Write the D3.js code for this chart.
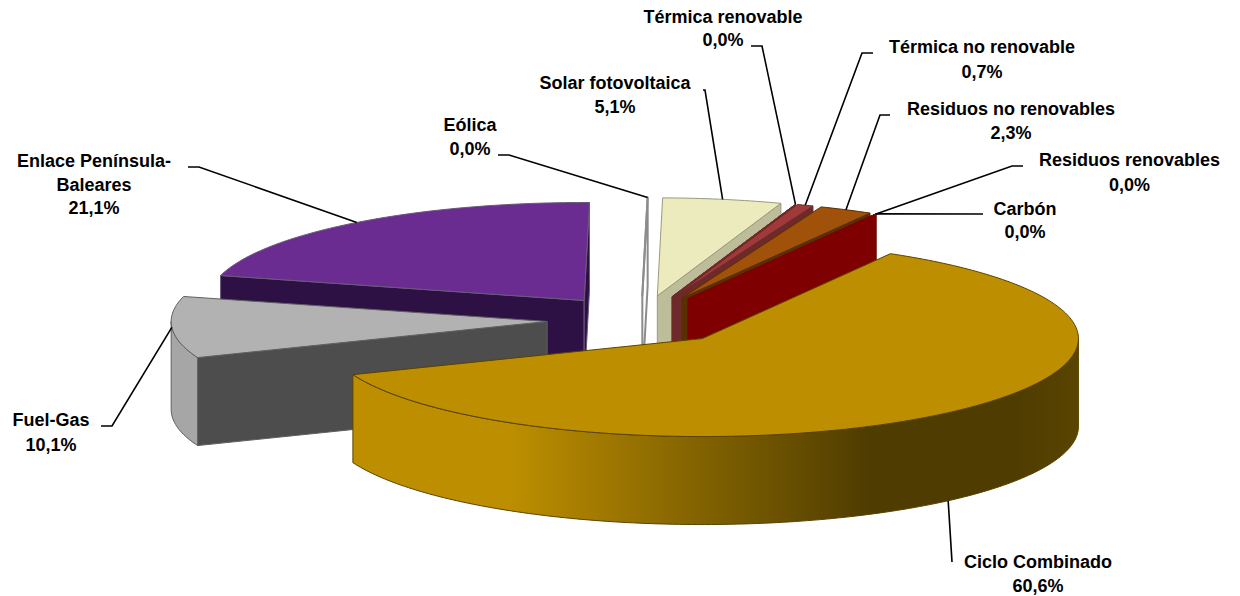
<!DOCTYPE html>
<html><head><meta charset="utf-8">
<script src="https://cdn.jsdelivr.net/npm/d3@7"></script>
<style>html,body{margin:0;padding:0;background:#fff}svg{display:block}
text{font-family:"Liberation Sans",Arial,sans-serif;font-weight:700;font-size:18px;fill:#000;text-anchor:middle}</style>
</head><body><svg id="c" width="1240" height="596"></svg>
<script>
// Data, in drawing-clockwise order starting at the Ciclo Combinado slice
const categories = ["Ciclo Combinado","Fuel-Gas","Enlace Península-Baleares","Eólica","Solar fotovoltaica","Térmica renovable","Térmica no renovable","Residuos no renovables","Residuos renovables","Carbón"];
const values = [60.6,10.1,21.1,0.0,5.1,0.0,0.7,2.3,0.0,0.0];
const labelLines = [["Ciclo Combinado"],["Fuel-Gas"],["Enlace Península-","Baleares"],["Eólica"],["Solar fotovoltaica"],["Térmica renovable"],["Térmica no renovable"],["Residuos no renovables"],["Residuos renovables"],["Carbón"]];
const topColors  = ["#BC8E00","#B2B2B2","#6B2C91","#FFFFFF","#EBEBBD","#A03A3A","#A03A3A","#A0520A","#6E3A00","#7F0000"];
const wallColors = ["#BC8E00","#4D4D4D","#2D1144","#FFFFFF","#BDBD9A","#6E2A2A","#6E2A2A","#5A3000","#5A3000","#7F0000"];
const arcColors  = ["url(#cicloWall)","#A6A6A6","#2D1144","#FFFFFF","#BDBD9A","#6E2A2A","#6E2A2A","#5A3000","#5A3000","#7F0000"];
const edgeColors = ["#5A4300","#5F5F5F","#6A5A78","#8C8C8C","#9A9A80","#6E2A2A","#6E2A2A","#5A3000","#3C2000","#7F0000"];
// layout
const W=1240,H=596, cx=641, cy=320, rx=376, ry=98, depth=88, explode=0.25, startDeg=30;
const drawOrder=[3,4,5,6,7,8,9,2,1,0];
const labelPos=[[1038,568],[51,426],[94,167],[470,131],[615,89],[723,23],[982,53],[1011,115],[1129.5,166],[1025,215]];
const lineH=[24,25,23.5,24,24,23,25,24,25,23];
const elbows=[[[952,562]],[[101,426],[112,426]],[[188,167],[199,167]],[[498,155],[509,155]],[[703,90],[705,90]],[[751,46],[762,46]],[[873,53],[862,53]],[[890,115],[880,115]],[[1023,166],[1012,166]],[[983,214]]];

const svg=d3.select("#c");
const X=d3.scaleLinear().domain([-1,1]).range([cx-rx,cx+rx]);
const Y=d3.scaleLinear().domain([-1,1]).range([cy-ry,cy+ry]);
const line=d3.line();
const rad=d=>d*Math.PI/180;
const slices=d3.pie().sort(null).value(d=>d).startAngle(rad(startDeg)).endAngle(rad(startDeg+360))(values);

const defs=svg.append("defs");
const grad=defs.append("linearGradient").attr("id","cicloWall").attr("gradientUnits","userSpaceOnUse")
 .attr("x1",X(-1)).attr("x2",X(1.17)).attr("y1",0).attr("y2",0);
[[0,"#BC8E00"],[0.30,"#BC8E00"],[0.74,"#4F3C00"],[0.92,"#4F3C00"],[1,"#5A4500"]].forEach(s=>grad.append("stop").attr("offset",s[0]).attr("stop-color",s[1]));

function apex(s){const m=(s.startAngle+s.endAngle)/2;return [explode*Math.sin(m),-explode*Math.cos(m)];}
function pt(s,a,dz){const o=apex(s);return [X(o[0]+Math.sin(a)),Y(o[1]-Math.cos(a))+(dz||0)];}
function ctr(s,dz){const o=apex(s);return [X(o[0]),Y(o[1])+(dz||0)];}
function arcPts(s,a0,a1,dz){const n=Math.max(1,Math.ceil((a1-a0)/rad(1)));return d3.range(n+1).map(i=>pt(s,a0+(a1-a0)*i/n,dz));}

drawOrder.forEach(i=>{
  const s=slices[i], a0=s.startAngle, a1=s.endAngle, g=svg.append("g").attr("class","slice");
  const sw=i===3?2:1;
  // radial walls
  if(Math.sin(a0)<-0.001) g.append("path").attr("d",line([ctr(s),pt(s,a0),pt(s,a0,depth),ctr(s,depth)])+"Z")
     .attr("fill",wallColors[i]).attr("stroke",edgeColors[i]).attr("stroke-width",sw);
  if(Math.sin(a1)>0.001||i===3) g.append("path").attr("d",line([ctr(s),pt(s,a1),pt(s,a1,depth),ctr(s,depth)])+"Z")
     .attr("fill",wallColors[i]).attr("stroke",edgeColors[i]).attr("stroke-width",sw);
  // curved wall
  const b0=Math.max(a0,rad(90)), b1=Math.min(a1,rad(270));
  if(b1>b0){const top=arcPts(s,b0,b1,0), bot=arcPts(s,b0,b1,depth).reverse();
    g.append("path").attr("d",line(top.concat(bot))+"Z").attr("fill",arcColors[i]).attr("stroke",edgeColors[i]).attr("stroke-width",1);}
  // top face
  g.append("path").attr("d",line([ctr(s)].concat(arcPts(s,a0,a1,0)))+"Z")
   .attr("fill",topColors[i]).attr("stroke",edgeColors[i]).attr("stroke-width",sw).attr("stroke-linejoin","round");
});

categories.forEach((c,i)=>{
  const s=slices[i], m=(s.startAngle+s.endAngle)/2;
  const end=pt(s,m,i===0?depth:0);
  svg.append("path").attr("d",line(elbows[i].concat([end]))).attr("fill","none").attr("stroke","#000").attr("stroke-width",1.6);
  const t=svg.append("text").attr("x",labelPos[i][0]).attr("y",labelPos[i][1]);
  const pct=values[i].toFixed(1).replace(".",",")+"%";
  labelLines[i].concat([pct]).forEach((l,j)=>t.append("tspan").attr("x",labelPos[i][0]).attr("y",labelPos[i][1]+j*lineH[i]).text(l));
});
</script></body></html>
